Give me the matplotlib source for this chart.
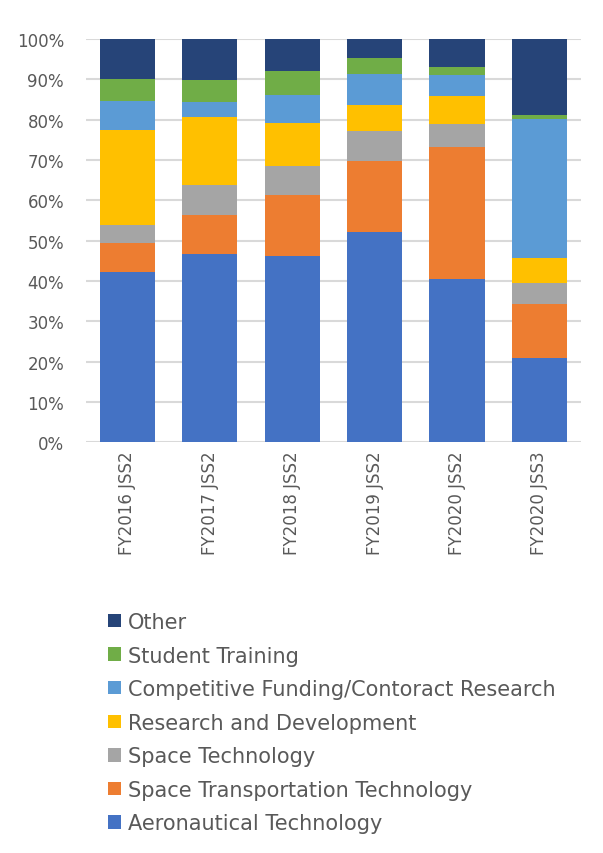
import matplotlib
matplotlib.use("Agg")
import matplotlib.pyplot as plt
from matplotlib.ticker import PercentFormatter
from matplotlib.patches import Patch
import numpy as np

categories = ["FY2016 JSS2", "FY2017 JSS2", "FY2018 JSS2", "FY2019 JSS2", "FY2020 JSS2", "FY2020 JSS3"]
aeronautical = [42.2, 46.6, 46.2, 52.1, 40.4, 20.8]
space_transport = [7.3, 9.8, 15.2, 17.7, 32.9, 13.4]
space_tech = [4.3, 7.4, 7.1, 7.4, 5.6, 5.3]
research_dev = [23.6, 16.8, 10.7, 6.4, 7.0, 6.2]
competitive = [7.3, 3.8, 7.0, 7.7, 5.2, 34.6]
student = [5.3, 5.4, 5.9, 4.0, 2.0, 0.8]
other = [10.0, 10.2, 7.9, 4.7, 6.9, 18.9]

series_names = ["Aeronautical Technology", "Space Transportation Technology", "Space Technology",
                "Research and Development", "Competitive Funding/Contoract Research",
                "Student Training", "Other"]
series = [aeronautical, space_transport, space_tech, research_dev, competitive, student, other]
colors = ["#4472C4", "#ED7D31", "#A5A5A5", "#FFC000", "#5B9BD5", "#70AD47", "#264478"]

plt.rcParams['font.family'] = ['DejaVu Sans']
text_color = "#595959"

fig = plt.figure(figsize=(6.03, 8.54), dpi=100)
ax = fig.add_axes([0.143, 0.481, 0.820, 0.472])

x = np.arange(len(categories))
bottom = np.zeros(len(categories))
handles = []
for name, vals, c in zip(series_names, series, colors):
    vals = np.array(vals)
    ax.bar(x, vals, bottom=bottom, width=0.67, color=c, label=name, zorder=3)
    bottom += vals
    handles.append(Patch(facecolor=c, label=name))

ax.set_ylim(0, 100)
ax.set_xlim(-0.5, len(categories) - 0.5)
ax.set_yticks(np.arange(0, 101, 10))
ax.yaxis.set_major_formatter(PercentFormatter(decimals=0))
ax.set_xticks(x)
ax.set_xticklabels(categories, rotation=90)
ax.grid(axis='y', color="#d9d9d9", linewidth=1.5, zorder=0)
for s in ax.spines.values():
    s.set_visible(False)
ax.tick_params(axis='both', length=0, labelsize=12, colors=text_color)
ax.tick_params(axis='x', pad=6)
ax.tick_params(axis='y', pad=16)

leg = fig.legend(handles=handles[::-1], labels=series_names[::-1],
                 loc='upper left', bbox_to_anchor=(0.165, 0.292),
                 frameon=False, fontsize=15, labelcolor=text_color,
                 handlelength=0.62, handleheight=0.62, handletextpad=0.34,
                 labelspacing=0.65, borderaxespad=0)

fig.savefig("out.png", dpi=100)
